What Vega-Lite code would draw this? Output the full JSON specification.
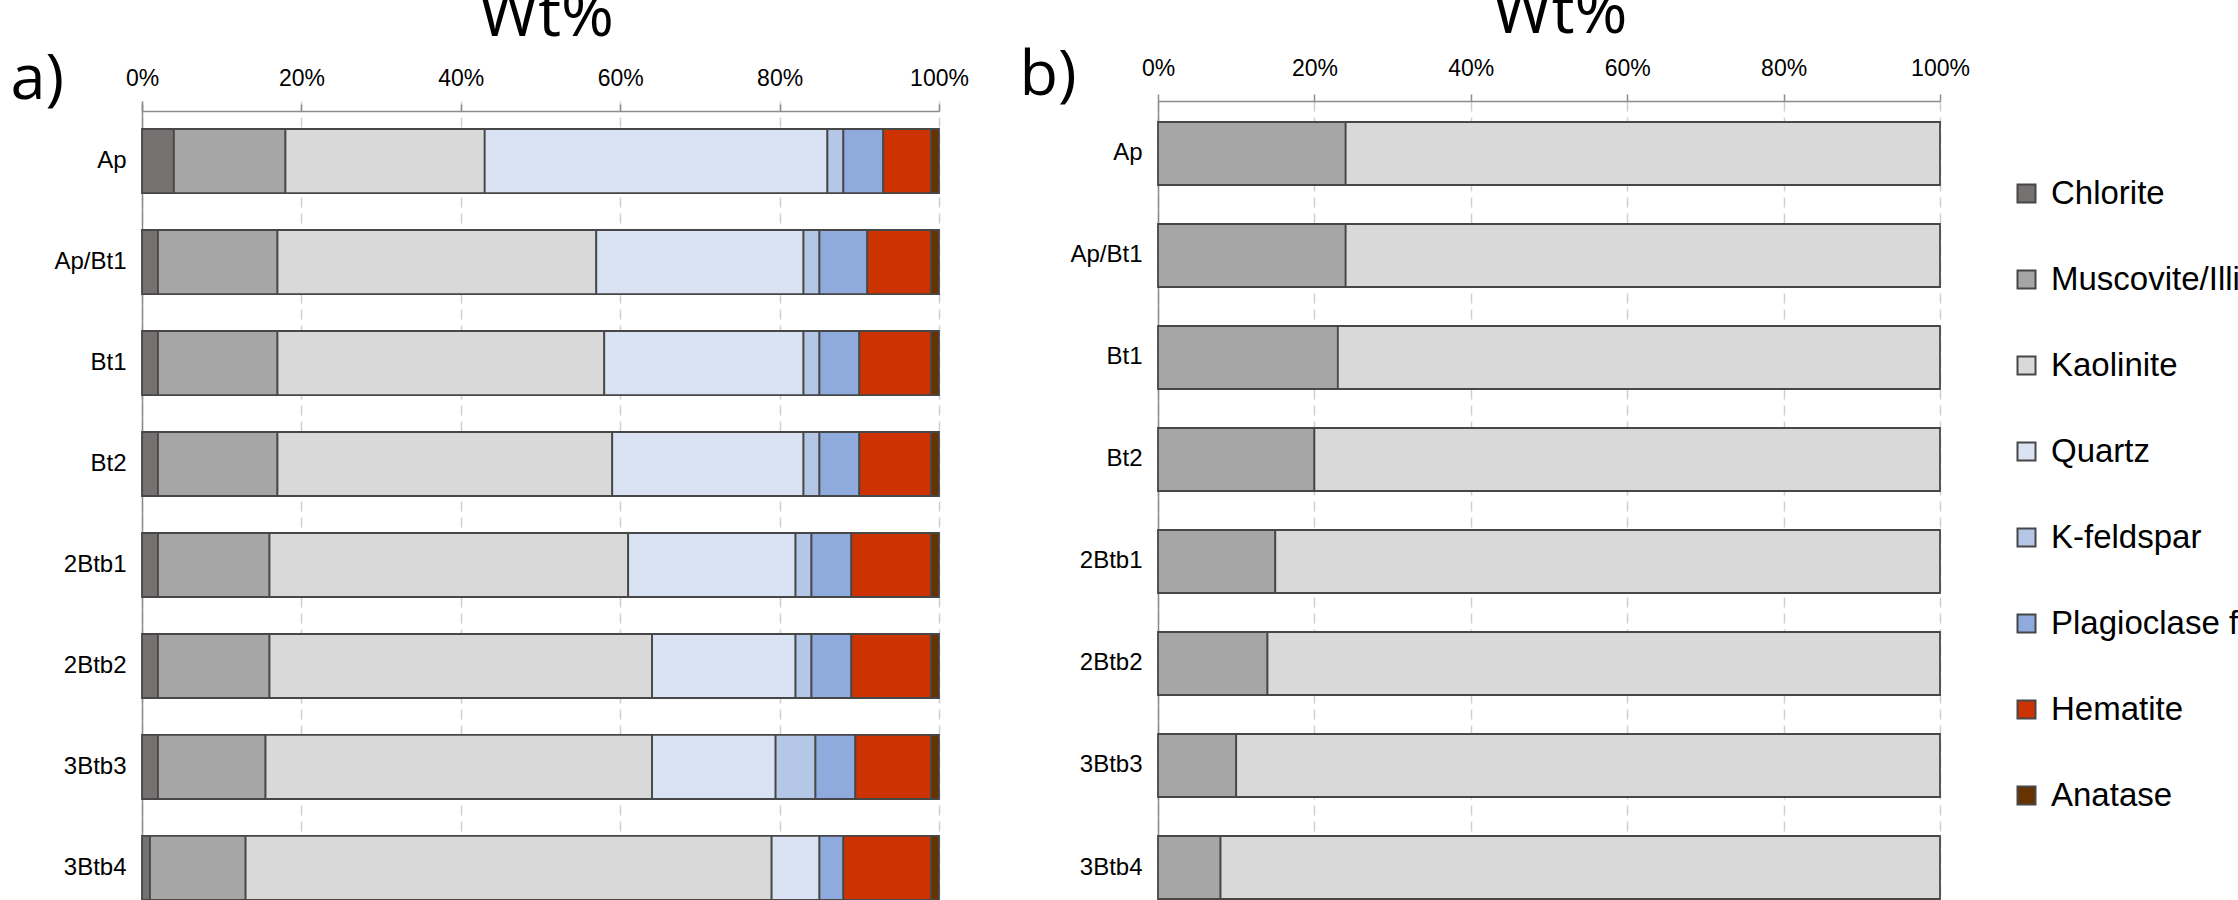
{
  "$schema": "https://vega.github.io/schema/vega-lite/v6.json",
  "padding": {"left": 10, "top": -18, "right": -100, "bottom": 0},
  "background": "white",
  "datasets": {
    "a": [
      {"horizon": "Ap", "mineral": "Chlorite", "wt": 4},
      {"horizon": "Ap", "mineral": "Muscovite/Illite", "wt": 14},
      {"horizon": "Ap", "mineral": "Kaolinite", "wt": 25},
      {"horizon": "Ap", "mineral": "Quartz", "wt": 43},
      {"horizon": "Ap", "mineral": "K-feldspar", "wt": 2},
      {"horizon": "Ap", "mineral": "Plagioclase feldspar", "wt": 5},
      {"horizon": "Ap", "mineral": "Hematite", "wt": 6},
      {"horizon": "Ap", "mineral": "Anatase", "wt": 1},
      {"horizon": "Ap/Bt1", "mineral": "Chlorite", "wt": 2},
      {"horizon": "Ap/Bt1", "mineral": "Muscovite/Illite", "wt": 15},
      {"horizon": "Ap/Bt1", "mineral": "Kaolinite", "wt": 40},
      {"horizon": "Ap/Bt1", "mineral": "Quartz", "wt": 26},
      {"horizon": "Ap/Bt1", "mineral": "K-feldspar", "wt": 2},
      {"horizon": "Ap/Bt1", "mineral": "Plagioclase feldspar", "wt": 6},
      {"horizon": "Ap/Bt1", "mineral": "Hematite", "wt": 8},
      {"horizon": "Ap/Bt1", "mineral": "Anatase", "wt": 1},
      {"horizon": "Bt1", "mineral": "Chlorite", "wt": 2},
      {"horizon": "Bt1", "mineral": "Muscovite/Illite", "wt": 15},
      {"horizon": "Bt1", "mineral": "Kaolinite", "wt": 41},
      {"horizon": "Bt1", "mineral": "Quartz", "wt": 25},
      {"horizon": "Bt1", "mineral": "K-feldspar", "wt": 2},
      {"horizon": "Bt1", "mineral": "Plagioclase feldspar", "wt": 5},
      {"horizon": "Bt1", "mineral": "Hematite", "wt": 9},
      {"horizon": "Bt1", "mineral": "Anatase", "wt": 1},
      {"horizon": "Bt2", "mineral": "Chlorite", "wt": 2},
      {"horizon": "Bt2", "mineral": "Muscovite/Illite", "wt": 15},
      {"horizon": "Bt2", "mineral": "Kaolinite", "wt": 42},
      {"horizon": "Bt2", "mineral": "Quartz", "wt": 24},
      {"horizon": "Bt2", "mineral": "K-feldspar", "wt": 2},
      {"horizon": "Bt2", "mineral": "Plagioclase feldspar", "wt": 5},
      {"horizon": "Bt2", "mineral": "Hematite", "wt": 9},
      {"horizon": "Bt2", "mineral": "Anatase", "wt": 1},
      {"horizon": "2Btb1", "mineral": "Chlorite", "wt": 2},
      {"horizon": "2Btb1", "mineral": "Muscovite/Illite", "wt": 14},
      {"horizon": "2Btb1", "mineral": "Kaolinite", "wt": 45},
      {"horizon": "2Btb1", "mineral": "Quartz", "wt": 21},
      {"horizon": "2Btb1", "mineral": "K-feldspar", "wt": 2},
      {"horizon": "2Btb1", "mineral": "Plagioclase feldspar", "wt": 5},
      {"horizon": "2Btb1", "mineral": "Hematite", "wt": 10},
      {"horizon": "2Btb1", "mineral": "Anatase", "wt": 1},
      {"horizon": "2Btb2", "mineral": "Chlorite", "wt": 2},
      {"horizon": "2Btb2", "mineral": "Muscovite/Illite", "wt": 14},
      {"horizon": "2Btb2", "mineral": "Kaolinite", "wt": 48},
      {"horizon": "2Btb2", "mineral": "Quartz", "wt": 18},
      {"horizon": "2Btb2", "mineral": "K-feldspar", "wt": 2},
      {"horizon": "2Btb2", "mineral": "Plagioclase feldspar", "wt": 5},
      {"horizon": "2Btb2", "mineral": "Hematite", "wt": 10},
      {"horizon": "2Btb2", "mineral": "Anatase", "wt": 1},
      {"horizon": "3Btb3", "mineral": "Chlorite", "wt": 2},
      {"horizon": "3Btb3", "mineral": "Muscovite/Illite", "wt": 13.5},
      {"horizon": "3Btb3", "mineral": "Kaolinite", "wt": 48.5},
      {"horizon": "3Btb3", "mineral": "Quartz", "wt": 15.5},
      {"horizon": "3Btb3", "mineral": "K-feldspar", "wt": 5},
      {"horizon": "3Btb3", "mineral": "Plagioclase feldspar", "wt": 5},
      {"horizon": "3Btb3", "mineral": "Hematite", "wt": 9.5},
      {"horizon": "3Btb3", "mineral": "Anatase", "wt": 1},
      {"horizon": "3Btb4", "mineral": "Chlorite", "wt": 1},
      {"horizon": "3Btb4", "mineral": "Muscovite/Illite", "wt": 12},
      {"horizon": "3Btb4", "mineral": "Kaolinite", "wt": 66},
      {"horizon": "3Btb4", "mineral": "Quartz", "wt": 6},
      {"horizon": "3Btb4", "mineral": "Plagioclase feldspar", "wt": 3},
      {"horizon": "3Btb4", "mineral": "Hematite", "wt": 11},
      {"horizon": "3Btb4", "mineral": "Anatase", "wt": 1}
    ],
    "b": [
      {"horizon": "Ap", "mineral": "Muscovite/Illite", "wt": 24},
      {"horizon": "Ap", "mineral": "Kaolinite", "wt": 76},
      {"horizon": "Ap/Bt1", "mineral": "Muscovite/Illite", "wt": 24},
      {"horizon": "Ap/Bt1", "mineral": "Kaolinite", "wt": 76},
      {"horizon": "Bt1", "mineral": "Muscovite/Illite", "wt": 23},
      {"horizon": "Bt1", "mineral": "Kaolinite", "wt": 77},
      {"horizon": "Bt2", "mineral": "Muscovite/Illite", "wt": 20},
      {"horizon": "Bt2", "mineral": "Kaolinite", "wt": 80},
      {"horizon": "2Btb1", "mineral": "Muscovite/Illite", "wt": 15},
      {"horizon": "2Btb1", "mineral": "Kaolinite", "wt": 85},
      {"horizon": "2Btb2", "mineral": "Muscovite/Illite", "wt": 14},
      {"horizon": "2Btb2", "mineral": "Kaolinite", "wt": 86},
      {"horizon": "3Btb3", "mineral": "Muscovite/Illite", "wt": 10},
      {"horizon": "3Btb3", "mineral": "Kaolinite", "wt": 90},
      {"horizon": "3Btb4", "mineral": "Muscovite/Illite", "wt": 8},
      {"horizon": "3Btb4", "mineral": "Kaolinite", "wt": 92}
    ]
  },
  "hconcat": [
    {
      "data": {"name": "a"},
      "transform": [{"window": [{"op": "row_number", "as": "seq"}]}],
      "width": 797,
      "height": 800,
      "title": {"text": "Wt%", "frame": "group", "anchor": "middle", "baseline": "alphabetic", "offset": -52, "dx": 6, "font": "Open Sans", "fontSize": 64, "fontWeight": "normal", "color": "#000000"},
      "mark": {"type": "bar", "stroke": "#474747", "strokeWidth": 1.8},
      "encoding": {
        "y": {
          "field": "horizon", "type": "nominal",
          "sort": ["Ap", "Ap/Bt1", "Bt1", "Bt2", "2Btb1", "2Btb2", "3Btb3", "3Btb4"],
          "scale": {"paddingInner": 0.366, "paddingOuter": 0.1436, "align": 0.9655},
          "axis": {"orient": "left", "title": "a)", "titleAngle": 0, "titleAlign": "left", "titleBaseline": "alphabetic", "titleX": -132, "titleY": -3, "titleFont": "Open Sans", "titleFontSize": 63, "titleFontWeight": "normal", "titleColor": "#000000", "ticks": false, "tickSize": 0, "domain": true, "domainColor": "#8c8c8c", "domainWidth": 1.5, "labelFont": "Liberation Sans", "labelFontSize": 24, "labelColor": "#000000", "labelPadding": 16, "grid": false}
        },
        "x": {
          "field": "wt", "type": "quantitative", "stack": "normalize",
          "scale": {"domain": [0, 1], "nice": false},
          "axis": {"orient": "top", "offset": -10, "values": [0, 0.2, 0.4, 0.6, 0.8, 1], "format": ".0%", "title": null, "domainColor": "#8c8c8c", "domainWidth": 1.5, "tickColor": "#8c8c8c", "tickWidth": 1.5, "tickSize": 7, "labelFont": "Liberation Sans", "labelFontSize": 23, "labelColor": "#000000", "labelBaseline": "alphabetic", "labelPadding": 19, "labelFlush": false, "labelOverlap": false, "grid": true, "gridColor": "#cfcfcf", "gridDash": [10, 6], "gridWidth": 1.5}
        },
        "order": {"field": "seq", "type": "quantitative"},
        "color": {
          "field": "mineral", "type": "nominal",
          "sort": ["Chlorite", "Muscovite/Illite", "Kaolinite", "Quartz", "K-feldspar", "Plagioclase feldspar", "Hematite", "Anatase"],
          "scale": {
            "domain": ["Chlorite", "Muscovite/Illite", "Kaolinite", "Quartz", "K-feldspar", "Plagioclase feldspar", "Hematite", "Anatase"],
            "range": ["#767171", "#a6a6a6", "#d9d9d9", "#dae3f3", "#b4c7e7", "#8faadc", "#cc3300", "#663300"]
          },
          "legend": {"orient": "none", "legendX": 1868, "legendY": 76, "title": null, "symbolType": "square", "symbolSize": 324, "symbolStrokeColor": "#3c3c3c", "symbolStrokeWidth": 2, "symbolOpacity": 1, "labelFont": "Liberation Sans", "labelFontSize": 33, "labelColor": "#000000", "labelLimit": 1000, "labelOffset": 8, "rowPadding": 52, "padding": 0}
        }
      }
    },
    {
      "data": {"name": "b"},
      "transform": [{"window": [{"op": "row_number", "as": "seq"}]}],
      "width": 782,
      "height": 800,
      "title": {"text": "Wt%", "frame": "group", "anchor": "middle", "baseline": "alphabetic", "offset": -53, "dx": 11, "font": "Open Sans", "fontSize": 64, "fontWeight": "normal", "color": "#000000"},
      "mark": {"type": "bar", "stroke": "#474747", "strokeWidth": 1.8},
      "encoding": {
        "y": {
          "field": "horizon", "type": "nominal",
          "sort": ["Ap", "Ap/Bt1", "Bt1", "Bt2", "2Btb1", "2Btb2", "3Btb3", "3Btb4"],
          "scale": {"paddingInner": 0.3824, "paddingOuter": 0.1127, "align": 0.913},
          "axis": {"orient": "left", "title": "b)", "titleAngle": 0, "titleAlign": "left", "titleBaseline": "alphabetic", "titleX": -139, "titleY": -7, "titleFont": "Open Sans", "titleFontSize": 63, "titleFontWeight": "normal", "titleColor": "#000000", "ticks": false, "tickSize": 0, "domain": true, "domainColor": "#8c8c8c", "domainWidth": 1.5, "labelFont": "Liberation Sans", "labelFontSize": 24, "labelColor": "#000000", "labelPadding": 16, "grid": false}
        },
        "x": {
          "field": "wt", "type": "quantitative", "stack": "normalize",
          "scale": {"domain": [0, 1], "nice": false},
          "axis": {"orient": "top", "values": [0, 0.2, 0.4, 0.6, 0.8, 1], "format": ".0%", "title": null, "domainColor": "#8c8c8c", "domainWidth": 1.5, "tickColor": "#8c8c8c", "tickWidth": 1.5, "tickSize": 7, "labelFont": "Liberation Sans", "labelFontSize": 23, "labelColor": "#000000", "labelBaseline": "alphabetic", "labelPadding": 19, "labelFlush": false, "labelOverlap": false, "grid": true, "gridColor": "#cfcfcf", "gridDash": [10, 6], "gridWidth": 1.5}
        },
        "order": {"field": "seq", "type": "quantitative"},
        "color": {
          "field": "mineral", "type": "nominal",
          "sort": ["Chlorite", "Muscovite/Illite", "Kaolinite", "Quartz", "K-feldspar", "Plagioclase feldspar", "Hematite", "Anatase"]
        }
      }
    }
  ],
  "spacing": 50,
  "resolve": {"scale": {"x": "independent", "y": "independent", "color": "shared"}},
  "config": {"view": {"stroke": null}}
}
